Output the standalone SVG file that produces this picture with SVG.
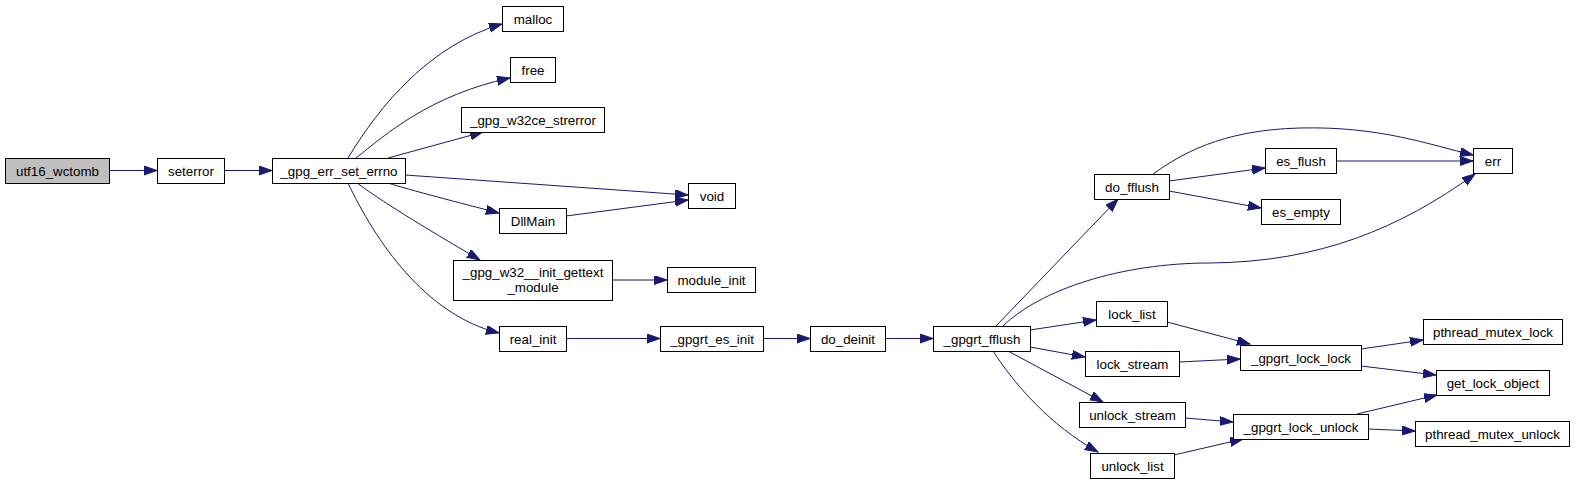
<svg xmlns="http://www.w3.org/2000/svg" width="1575" height="484" viewBox="0 0 1575 484">
<style>
.n rect{fill:#ffffff;stroke:#000000;stroke-width:1}
.n.g rect{fill:#bfbfbf}
.n text{font-family:"Liberation Sans",Arial,sans-serif;font-size:13.33px;text-anchor:middle;fill:#000000}
.e path{fill:none;stroke:#191970;stroke-width:1;marker-end:url(#ah)}
</style>
<defs>
<marker id="ah" markerUnits="userSpaceOnUse" markerWidth="14" markerHeight="10" refX="13" refY="4.5" orient="auto">
<path d="M0,0 L13,4.5 L0,9 Z" fill="#191970" stroke="#191970" stroke-width="1"/>
</marker>
</defs>
<rect x="0" y="0" width="1575" height="484" fill="#ffffff"/>
<g id="connectors" class="e">
<path d="M109,170.5 L157,170.5"/>
<path d="M224,170.5 L272,170.5"/>
<path d="M348,158 C380,105 430,45 502,24"/>
<path d="M356,158 C385,135 430,95 510,78"/>
<path d="M388,158 L483,132"/>
<path d="M405,175 L688,195"/>
<path d="M388,183 C410,190 460,203 499,213"/>
<path d="M357,183 C380,200 420,225 480,260"/>
<path d="M348,183 C375,240 425,315 499,333"/>
<path d="M566,216 L688,200"/>
<path d="M612,280 L667,280"/>
<path d="M566,338.5 L660,338.5"/>
<path d="M763,338.5 L810,338.5"/>
<path d="M885,338.5 L933,338.5"/>
<path d="M996,326 L1118,199"/>
<path d="M1003,326 C1040,290 1120,263 1210,263 C1320,262 1400,228 1475,174"/>
<path d="M1153,174 C1180,155 1220,130 1300,128 C1380,126 1430,145 1473,155"/>
<path d="M1169,181 L1265,168"/>
<path d="M1169,191 L1261,208"/>
<path d="M1336,161 L1473,161"/>
<path d="M1030,330 L1096,320"/>
<path d="M1030,347 L1085,357"/>
<path d="M1008,351 L1103,402"/>
<path d="M993,351 C1015,385 1050,425 1098,452"/>
<path d="M1167,322 L1250,344"/>
<path d="M1179,362 L1240,359"/>
<path d="M1185,418 L1233,422"/>
<path d="M1174,455 L1243,439"/>
<path d="M1361,349 L1423,340"/>
<path d="M1361,366 L1436,375"/>
<path d="M1357,414 L1437,395"/>
<path d="M1368,429 L1415,431"/>
</g>
<g id="n_utf16_wctomb" class="n g"><rect x="5.5" y="158.5" width="104" height="25"/><text x="57.5" y="175.5">utf16_wctomb</text></g>
<g id="n_seterror" class="n"><rect x="157.5" y="158.5" width="67" height="25"/><text x="191" y="175.5">seterror</text></g>
<g id="n_gpg_err_set_errno" class="n"><rect x="272.5" y="158.5" width="133" height="25"/><text x="339" y="175.5">_gpg_err_set_errno</text></g>
<g id="n_malloc" class="n"><rect x="502.5" y="6.5" width="61" height="25"/><text x="533" y="23.5">malloc</text></g>
<g id="n_free" class="n"><rect x="510.5" y="57.5" width="45" height="25"/><text x="533" y="74.5">free</text></g>
<g id="n_gpg_w32ce_strerror" class="n"><rect x="461.5" y="107.5" width="143" height="25"/><text x="533" y="124.5">_gpg_w32ce_strerror</text></g>
<g id="n_void" class="n"><rect x="688.5" y="183.5" width="47" height="25"/><text x="712" y="200.5">void</text></g>
<g id="n_DllMain" class="n"><rect x="499.5" y="208.5" width="67" height="25"/><text x="533" y="225.5">DllMain</text></g>
<g id="n_gettext_module" class="n"><rect x="453.5" y="260.5" width="159" height="40"/><text x="533" y="276.5">_gpg_w32__init_gettext</text><text x="533" y="291.5">_module</text></g>
<g id="n_module_init" class="n"><rect x="667.5" y="267.5" width="88" height="25"/><text x="711.5" y="284.5">module_init</text></g>
<g id="n_real_init" class="n"><rect x="499.5" y="326.5" width="67" height="25"/><text x="533" y="343.5">real_init</text></g>
<g id="n_gpgrt_es_init" class="n"><rect x="660.5" y="326.5" width="103" height="25"/><text x="712" y="343.5">_gpgrt_es_init</text></g>
<g id="n_do_deinit" class="n"><rect x="810.5" y="326.5" width="75" height="25"/><text x="848" y="343.5">do_deinit</text></g>
<g id="n_gpgrt_fflush" class="n"><rect x="933.5" y="326.5" width="97" height="25"/><text x="982" y="343.5">_gpgrt_fflush</text></g>
<g id="n_do_fflush" class="n"><rect x="1094.5" y="174.5" width="75" height="25"/><text x="1132" y="191.5">do_fflush</text></g>
<g id="n_es_flush" class="n"><rect x="1265.5" y="148.5" width="71" height="25"/><text x="1301" y="165.5">es_flush</text></g>
<g id="n_es_empty" class="n"><rect x="1261.5" y="199.5" width="79" height="25"/><text x="1301" y="216.5">es_empty</text></g>
<g id="n_err" class="n"><rect x="1473.5" y="148.5" width="39" height="25"/><text x="1493" y="165.5">err</text></g>
<g id="n_lock_list" class="n"><rect x="1096.5" y="301.5" width="71" height="25"/><text x="1132" y="318.5">lock_list</text></g>
<g id="n_lock_stream" class="n"><rect x="1085.5" y="351.5" width="94" height="25"/><text x="1132.5" y="368.5">lock_stream</text></g>
<g id="n_unlock_stream" class="n"><rect x="1079.5" y="402.5" width="106" height="25"/><text x="1132.5" y="419.5">unlock_stream</text></g>
<g id="n_unlock_list" class="n"><rect x="1090.5" y="453.5" width="84" height="25"/><text x="1132.5" y="470.5">unlock_list</text></g>
<g id="n_gpgrt_lock_lock" class="n"><rect x="1240.5" y="345.5" width="121" height="25"/><text x="1301" y="362.5">_gpgrt_lock_lock</text></g>
<g id="n_pthread_mutex_lock" class="n"><rect x="1423.5" y="319.5" width="139" height="25"/><text x="1493" y="336.5">pthread_mutex_lock</text></g>
<g id="n_get_lock_object" class="n"><rect x="1436.5" y="370.5" width="113" height="25"/><text x="1493" y="387.5">get_lock_object</text></g>
<g id="n_gpgrt_lock_unlock" class="n"><rect x="1233.5" y="414.5" width="135" height="25"/><text x="1301" y="431.5">_gpgrt_lock_unlock</text></g>
<g id="n_pthread_mutex_unlock" class="n"><rect x="1415.5" y="421.5" width="154" height="25"/><text x="1492.5" y="438.5">pthread_mutex_unlock</text></g>
</svg>
